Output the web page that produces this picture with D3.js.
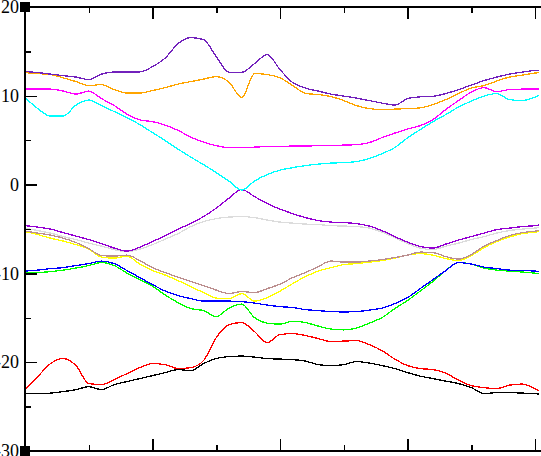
<!DOCTYPE html>
<html>
<head>
<meta charset="utf-8">
<script src="https://cdn.jsdelivr.net/npm/d3@7"></script>
<style>
  body { margin: 0; background: #fff; }
  svg { display: block; }
</style>
</head>
<body>
<svg width="541" height="456"></svg>
<script>
// k-path sample positions shared by every band
const kpts = [0, 0.1, 0.2, 0.3, 0.4, 0.5, 0.6, 0.7, 0.8, 0.9, 1.0, 1.1, 1.2, 1.3, 1.4, 1.5, 1.6, 1.7, 1.8, 1.9, 2.0,
  2.1, 2.2, 2.3, 2.4, 2.5, 2.6, 2.7, 2.8, 2.9, 3.0, 3.1, 3.2, 3.3, 3.4, 3.5, 3.6, 3.7, 3.8, 3.9, 4.0, 4.03];

// band energies
const band1 = [-23.54, -23.54, -23.48, -23.31, -23.09, -22.75, -23.09, -22.52, -22.18, -21.85, -21.51, -21.17, -20.83, -20.95, -20.16, -19.59, -19.37, -19.31, -19.43, -19.59, -19.65,
  -19.71, -19.88, -20.27, -20.38, -20.27, -19.93, -20.10, -20.38, -20.72, -21.17, -21.57, -21.85, -22.13, -22.41, -22.86, -23.54, -23.42, -23.42, -23.48, -23.54, -23.59];
const band2 = [-23.09, -21.62, -20.16, -19.59, -20.38, -22.41, -22.52, -21.96, -21.28, -20.61, -20.16, -20.27, -20.72, -20.61, -19.82, -17.23, -15.77, -15.54, -16.55, -17.79, -16.89,
  -16.78, -17.00, -17.34, -17.68, -17.62, -17.57, -18.02, -18.69, -19.65, -20.38, -20.72, -20.83, -21.23, -22.02, -22.64, -22.86, -22.97, -22.58, -22.46, -22.97, -23.20];
const band3 = [-9.97, -9.91, -9.80, -9.63, -9.40, -9.12, -8.78, -9.12, -9.97, -10.70, -11.43, -12.44, -13.29, -13.96, -14.19, -14.86, -13.91, -13.46, -14.98, -15.60, -15.71,
  -15.39, -15.54, -15.93, -16.27, -16.36, -16.16, -15.60, -14.98, -13.96, -13.06, -11.99, -10.89, -9.68, -8.78, -8.95, -9.40, -9.63, -9.74, -9.85, -9.97, -10.02];
const band4 = [-9.74, -9.63, -9.46, -9.35, -9.12, -8.90, -8.61, -8.90, -9.68, -10.47, -11.26, -11.99, -12.50, -12.84, -13.12, -13.12, -13.12, -13.18, -13.34, -13.57, -13.74,
  -13.85, -14.08, -14.19, -14.30, -14.34, -14.30, -14.13, -13.91, -13.40, -12.73, -11.71, -10.70, -9.68, -8.78, -8.95, -9.29, -9.46, -9.63, -9.68, -9.74, -9.80];
const band5 = [-5.29, -5.63, -6.03, -6.36, -6.76, -7.26, -8.16, -8.28, -8.05, -8.95, -9.68, -10.19, -10.81, -11.49, -12.16, -12.78, -12.84, -12.27, -13.12, -12.73, -11.99,
  -11.15, -10.36, -9.74, -9.35, -9.01, -8.90, -8.73, -8.56, -8.28, -7.94, -7.77, -7.94, -8.33, -8.56, -8.00, -7.09, -6.42, -5.91, -5.52, -5.35, -5.29];
const band6 = [-5.24, -5.46, -5.69, -6.03, -6.53, -7.21, -8.00, -8.05, -7.94, -8.56, -9.35, -9.91, -10.42, -10.92, -11.37, -11.88, -12.27, -12.05, -12.16, -11.71, -11.21,
  -10.47, -9.91, -9.23, -8.61, -8.73, -8.73, -8.61, -8.45, -8.22, -7.94, -7.60, -7.66, -8.11, -8.39, -7.88, -6.93, -6.31, -5.74, -5.41, -5.24, -5.18];
const band7 = [-4.90, -5.18, -5.46, -5.86, -6.19, -6.59, -6.93, -7.32, -7.55, -7.26, -6.76, -6.14, -5.52, -4.73, -4.17, -3.83, -3.66, -3.60, -3.72, -4.00, -4.22,
  -4.34, -4.45, -4.50, -4.62, -4.67, -4.73, -4.90, -5.35, -5.97, -6.64, -7.15, -7.32, -6.93, -6.59, -6.19, -5.86, -5.46, -5.18, -5.01, -4.90, -4.84];
const band8 = [-4.62, -4.79, -5.01, -5.41, -5.80, -6.19, -6.64, -7.15, -7.49, -7.04, -6.42, -5.74, -5.01, -4.39, -3.60, -2.65, -1.52, -0.56, -1.35, -2.14, -2.76,
  -3.27, -3.72, -4.05, -4.22, -4.28, -4.39, -4.67, -5.18, -5.86, -6.48, -6.98, -7.15, -6.70, -6.25, -5.86, -5.46, -5.07, -4.90, -4.73, -4.62, -4.56];
const band9 = [9.80, 8.56, 7.71, 7.71, 8.95, 9.52, 8.90, 8.22, 7.55, 6.76, 5.86, 4.95, 4.00, 3.10, 2.25, 1.35, 0.39, -0.62, 0.40, 1.13, 1.63,
  1.91, 2.14, 2.31, 2.42, 2.48, 2.59, 2.93, 3.49, 4.17, 5.26, 6.19, 7.09, 7.88, 8.73, 9.40, 9.97, 10.25, 9.57, 9.46, 9.85, 10.02];
const band10 = [10.75, 10.75, 10.75, 10.53, 10.19, 10.53, 9.68, 8.90, 7.94, 7.29, 7.09, 6.70, 6.11, 5.35, 4.79, 4.39, 4.17, 4.17, 4.22, 4.28, 4.28,
  4.34, 4.34, 4.39, 4.39, 4.45, 4.50, 4.73, 5.29, 5.80, 6.25, 6.64, 7.32, 8.45, 9.46, 10.42, 10.92, 10.47, 10.70, 10.75, 10.75, 10.75];
const band11 = [12.61, 12.50, 12.39, 12.02, 11.60, 11.15, 11.26, 10.70, 10.30, 10.30, 10.59, 10.92, 11.32, 11.60, 11.88, 12.16, 11.54, 9.80, 12.50, 12.39, 12.02,
  11.15, 10.27, 10.14, 9.91, 9.46, 8.90, 8.56, 8.45, 8.50, 8.56, 8.64, 9.01, 9.57, 10.25, 10.87, 11.15, 11.66, 12.11, 12.33, 12.56, 12.61];
const band12 = [12.73, 12.61, 12.44, 12.27, 12.11, 11.82, 12.44, 12.69, 12.69, 12.69, 13.29, 14.25, 15.88, 16.55, 16.33, 14.41, 12.65, 12.65, 13.63, 14.64, 12.95,
  11.49, 10.87, 10.53, 10.19, 9.97, 9.74, 9.46, 9.18, 8.95, 9.68, 9.88, 9.94, 10.25, 10.70, 11.20, 11.71, 12.11, 12.44, 12.67, 12.84, 12.84];

// grace default palette, one colour per band
const bandColors = ["#000000", "#ff0000", "#00ff00", "#0000ff", "#ffff00", "#bc8f8f",
  "#dcdcdc", "#9400d3", "#00ffff", "#ff00ff", "#ffa500", "#7221bc"];

// axis ticks
const yTicks = [-30, -20, -10, 0, 10, 20];
const yTickLabels = ["-30", "-20", "-10", "0", "10", "20"];
const yMinor = [-25, -15, -5, 5, 15];
const xTicks = [0, 1, 2, 3, 4];
const xMinor = [0.5, 1.5, 2.5, 3.5];

const bands = [band1, band2, band3, band4, band5, band6, band7, band8, band9, band10, band11, band12];

const svg = d3.select('svg');

const x = d3.scaleLinear().domain([0, 4]).range([25, 535]);
const y = d3.scaleLinear().domain([-30, 20]).range([451, 7]);

// bands
const line = d3.line()
  .x((d, i) => x(kpts[i]))
  .y(d => y(d))
  .curve(d3.curveMonotoneX);

svg.append('g')
  .selectAll('path')
  .data(bands)
  .join('path')
  .attr('d', d => line(d))
  .attr('fill', 'none')
  .attr('stroke', (d, i) => bandColors[i])
  .attr('stroke-width', 1.3)
  .attr('shape-rendering', 'crispEdges');

// frame (right side runs off the window)
svg.append('rect')
  .attr('x', x(0))
  .attr('y', y(20))
  .attr('width', x(4.1) - x(0))
  .attr('height', y(-30) - y(20))
  .attr('fill', 'none')
  .attr('stroke', '#000')
  .attr('stroke-width', 1.5)
  .attr('shape-rendering', 'crispEdges');

// left axis, ticks pointing inward
const yAxis = svg.append('g')
  .attr('transform', `translate(${x(0)},0)`)
  .call(d3.axisLeft(y).tickValues(yTicks).tickSize(-12).tickPadding(6)
    .tickFormat((d, i) => yTickLabels[i]));
yAxis.select('.domain').remove();
yAxis.selectAll('text')
  .attr('font-family', '"Liberation Serif", "Times New Roman", serif')
  .attr('font-size', 18)
  .attr('fill', '#000');

const yAxisMinor = svg.append('g')
  .attr('transform', `translate(${x(0)},0)`)
  .call(d3.axisLeft(y).tickValues(yMinor).tickSize(-6).tickFormat(''));
yAxisMinor.select('.domain').remove();

// bottom and top axes, no labels
[[d3.axisBottom, 451], [d3.axisTop, 7]].forEach(([axisFn, ypos]) => {
  const major = svg.append('g')
    .attr('transform', `translate(0,${ypos})`)
    .call(axisFn(x).tickValues(xTicks).tickSize(-12).tickFormat(''));
  major.select('.domain').remove();
  const minor = svg.append('g')
    .attr('transform', `translate(0,${ypos})`)
    .call(axisFn(x).tickValues(xMinor).tickSize(-6).tickFormat(''));
  minor.select('.domain').remove();
});

svg.selectAll('.tick line')
  .attr('stroke-width', 1.5)
  .attr('shape-rendering', 'crispEdges');

// corner handles
svg.selectAll('.corner')
  .data([20, -30])
  .join('rect')
  .attr('class', 'corner')
  .attr('x', x(0) - 5)
  .attr('y', d => y(d) - 5)
  .attr('width', 10)
  .attr('height', 10)
  .attr('fill', '#000');
</script>
</body>
</html>
